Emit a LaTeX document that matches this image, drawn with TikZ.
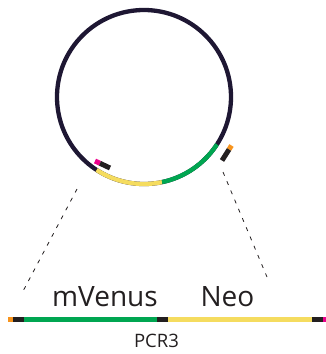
\documentclass[tikz,border=0pt]{standalone}
\usepackage{fontspec}
\usetikzlibrary{calc}
\newfontfamily\lblfont{Open Sans}
\definecolor{ring}{HTML}{1E1733}
\definecolor{gfp}{HTML}{00A651}
\definecolor{neo}{HTML}{F5DC5F}
\definecolor{pinkm}{HTML}{EC008C}
\definecolor{orangem}{HTML}{F7941D}
\definecolor{blk}{HTML}{231F20}
\definecolor{txt}{HTML}{231F20}
\tikzset{
  ringline/.style={line width=4.3pt, ring},
  arcseg/.style={line width=4.3pt, #1},
  barseg/.style={line width=5pt, #1},
  markseg/.style={line width=5pt, #1},
  guide/.style={line width=0.8pt, blk, dash pattern=on 4pt off 6pt},
  biglabel/.style={text=txt, inner sep=0pt, anchor=base, font=\lblfont\fontsize{28}{32}\selectfont},
  smalllabel/.style={text=txt, inner sep=0pt, anchor=base, font=\lblfont\fontsize{18.5}{22}\selectfont},
}
\begin{document}
\begin{tikzpicture}[x=1pt, y=-1pt]
\useasboundingbox (0,0) rectangle (326,354);
\coordinate (c) at (144,97);
% plasmid ring
\draw[ringline] (c) circle[radius=87];
\draw[arcseg=neo] ($(c)+(123:87)$) arc[start angle=123, end angle=78, radius=87];
\draw[arcseg=gfp] ($(c)+(78:87)$) arc[start angle=78, end angle=33, radius=87];
% small markers
\coordinate (pA) at (95,161);
\coordinate (pB) at (100,163.3);
\coordinate (pC) at (110,168);
\draw[markseg=pinkm] (pA) -- (pB);
\draw[markseg=blk] (pB) -- (pC);
\coordinate (oA) at (231.5,145.5);
\coordinate (oB) at (229,149.5);
\coordinate (oC) at (222,160.5);
\draw[markseg=orangem] (oA) -- (oB);
\draw[markseg=blk] (oB) -- (oC);
% linear map
\coordinate (b0) at (8,319);
\coordinate (b1) at (13,319);
\coordinate (b2) at (24,319);
\coordinate (b3) at (157,319);
\coordinate (b4) at (168,319);
\coordinate (b5) at (312,319);
\coordinate (b6) at (323,319);
\coordinate (b7) at (326,319);
\draw[barseg=orangem] (b0) -- (b1);
\draw[barseg=blk] (b1) -- (b2);
\draw[barseg=gfp] (b2) -- (b3);
\draw[barseg=blk] (b3) -- (b4);
\draw[barseg=neo] (b4) -- (b5);
\draw[barseg=blk] (b5) -- (b6);
\draw[barseg=pinkm] (b6) -- (b7);
% guides
\coordinate (gL1) at (77,189);
\coordinate (gL2) at (21,295);
\coordinate (gR1) at (223,172);
\coordinate (gR2) at (267,277);
\draw[guide] (gL1) -- (gL2);
\draw[guide] (gR1) -- (gR2);
% labels
\node[biglabel] (mv) at (105,306) {mVenus};
\node[biglabel] (neo) at (227.5,306) {Neo};
\node[smalllabel] (pcr) at (156.5,347) {PCR3};
\end{tikzpicture}
\end{document}
